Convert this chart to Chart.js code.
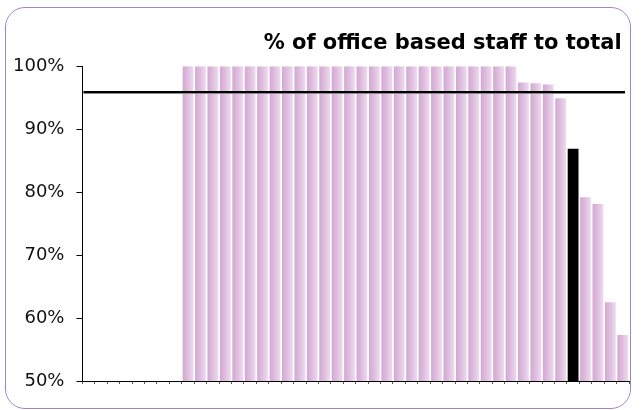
<!DOCTYPE html>
<html>
<head>
<meta charset="utf-8">
<script src="https://cdn.jsdelivr.net/npm/chart.js@4"></script>
<style>
  html, body { margin: 0; padding: 0; background: #fff; }
  #wrap { position: relative; width: 642px; height: 410px; }
  #frame {
    position: absolute; left: 5px; top: 7px; width: 624px; height: 400px;
    border: 1px solid #a584c4; border-radius: 20px; pointer-events: none;
  }
  canvas { position: absolute; left: 0; top: 0; }
</style>
</head>
<body>
<div id="wrap">
  <canvas id="myChart" width="642" height="410"></canvas>
  <div id="frame"></div>
</div>
<script>
// units along the axis (no labels shown on the original)
var categories = ['U01', 'U02', 'U03', 'U04', 'U05', 'U06', 'U07', 'U08', 'U09', 'U10', 'U11',
  'U12', 'U13', 'U14', 'U15', 'U16', 'U17', 'U18', 'U19', 'U20', 'U21', 'U22',
  'U23', 'U24', 'U25', 'U26', 'U27', 'U28', 'U29', 'U30', 'U31', 'U32', 'U33',
  'U34', 'U35', 'U36', 'U37', 'U38', 'U39', 'U40', 'U41', 'U42', 'U43', 'U44'];
// % of office based staff to total
var officeShare = [0, 0, 0, 0, 0, 0, 0, 0,
  100, 100, 100, 100, 100, 100, 100, 100, 100, 100,
  100, 100, 100, 100, 100, 100, 100, 100, 100, 100,
  100, 100, 100, 100, 100, 100, 100,
  97.4, 97.3, 97.1, 94.9, 86.9, 79.2, 78.1, 62.5, 57.3];
var highlighted = 'U40';
var averageShare = 95.9;
var yTicks = [50, 60, 70, 80, 90, 100];

var barPct = 0.87;

function barColor(context) {
    var chart = context.chart;
    if (categories[context.dataIndex] === highlighted) return '#000000';
    var xScale = chart.scales.x;
    if (!xScale || !chart.chartArea) return '#dcbadc';
    var x = xScale.getPixelForValue(context.dataIndex);
    var half = (xScale.width / categories.length) * barPct / 2;
    var g = chart.ctx.createLinearGradient(x - half, 0, x + half, 0);
    g.addColorStop(0, '#d3a8d3');
    g.addColorStop(0.5, '#dfbfdf');
    g.addColorStop(1, '#eddced');
    return g;
}

// horizontal reference line at the average value
var averageLine = {
    id: 'averageLine',
    afterDatasetsDraw: function (chart) {
        var ctx = chart.ctx;
        var y = chart.scales.y.getPixelForValue(averageShare);
        var area = chart.chartArea;
        ctx.save();
        ctx.strokeStyle = '#8a8a8a';
        ctx.lineWidth = 1;
        ctx.beginPath();
        ctx.moveTo(area.left + 1, y + 1.5);
        ctx.lineTo(area.right - 4, y + 1.5);
        ctx.stroke();
        ctx.strokeStyle = '#000';
        ctx.lineWidth = 2;
        ctx.beginPath();
        ctx.moveTo(area.left + 1, y);
        ctx.lineTo(area.right - 4, y);
        ctx.stroke();
        ctx.restore();
    }
};

var ctx = document.getElementById('myChart').getContext('2d');
var myChart = new Chart(ctx, {
    type: 'bar',
    data: {
        labels: categories,
        datasets: [{
            label: '% of office based staff to total',
            data: officeShare,
            backgroundColor: barColor,
            borderWidth: 0,
            barPercentage: barPct,
            categoryPercentage: 1
        }]
    },
    options: {
        responsive: false,
        animation: false,
        layout: { padding: { left: 1, right: 13, top: 21, bottom: 26 } },
        plugins: {
            legend: { display: false },
            tooltip: { enabled: false },
            title: {
                display: true,
                text: '% of office based staff to total\u00a0',
                align: 'end',
                color: '#000',
                font: { family: 'DejaVu Sans', size: 21, weight: 'bold' },
                padding: { top: 10, bottom: 10 }
            }
        },
        scales: {
            x: {
                grid: { display: true, drawOnChartArea: false, tickLength: 3, color: '#555', offset: true },
                border: { display: true, color: '#000', width: 1 },
                ticks: { display: false }
            },
            y: {
                min: 50,
                max: 100,
                afterBuildTicks: function (axis) {
                    axis.ticks = yTicks.map(function (v) { return { value: v }; });
                },
                grid: { display: true, drawOnChartArea: false, tickLength: 6, color: '#000' },
                border: { display: true, color: '#000', width: 1 },
                ticks: {
                    color: '#111',
                    padding: 12,
                    font: { family: 'DejaVu Sans', size: 18 },
                    callback: function (v) { return v + '%'; }
                }
            }
        }
    },
    plugins: [averageLine]
});
</script>
</body>
</html>
